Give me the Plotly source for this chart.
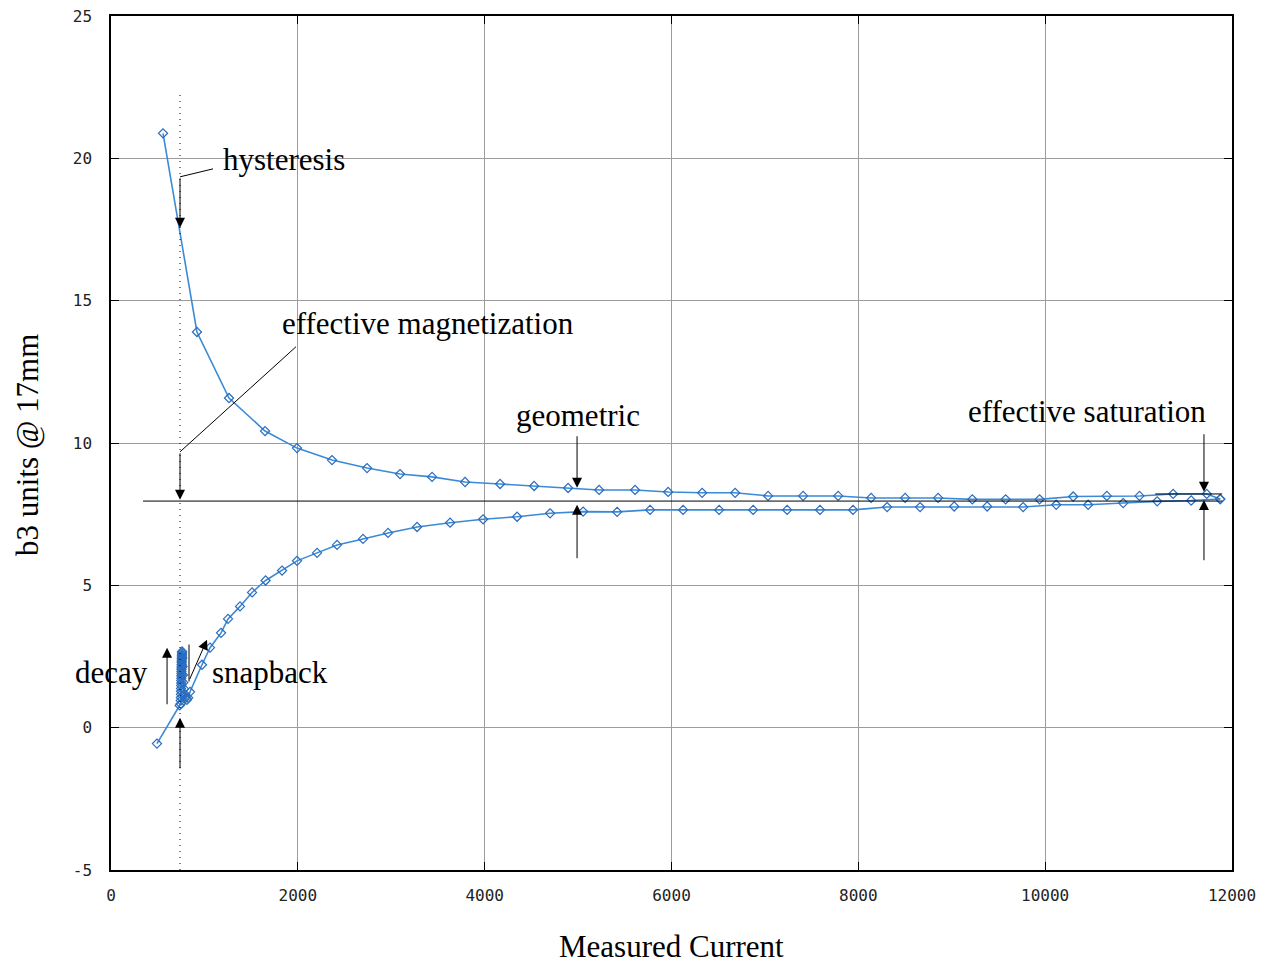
import plotly.graph_objects as go

# ---------------- data ----------------
# down-ramp branch (upper curve)
down_x = [557, 920, 1263, 1649, 1991, 2366, 2741, 3094, 3437, 3790, 4165, 4529,
          4893, 5225, 5610, 5964, 6328, 6681, 7034, 7409, 7784, 8137, 8501, 8854,
          9220, 9577, 9940, 10300, 10660, 11010, 11370, 11730, 11874]
down_y = [20.88, 13.9, 11.58, 10.42, 9.82, 9.40, 9.12, 8.91, 8.81, 8.63, 8.56, 8.49,
          8.42, 8.35, 8.35, 8.28, 8.25, 8.25, 8.14, 8.14, 8.14, 8.07, 8.07, 8.07,
          8.02, 8.02, 8.02, 8.12, 8.14, 8.14, 8.21, 8.21, 8.03]

# up-ramp branch (lower curve) incl. decay at injection and snapback
up_x = [492, 735,
        746, 747, 748, 749, 750, 750, 751, 752, 752, 753, 753, 754, 754, 755,
        755, 756, 756, 757, 757, 758, 758, 759, 759, 760, 760, 761,
        763, 766, 770, 775, 782, 790, 800, 812, 826,
        846, 974, 1060, 1178, 1253, 1381, 1510, 1655, 1831, 1991, 2206, 2420,
        2698, 2966, 3276, 3630, 3983, 4347, 4700, 5054, 5418, 5771, 6124, 6510,
        6874, 7238, 7590, 7943, 8308, 8661, 9026, 9379, 9764, 10118, 10460, 10835,
        11199, 11563, 11874]
up_y = [-0.56, 0.78,
        0.84, 0.95, 1.06, 1.17, 1.28, 1.38, 1.48, 1.57, 1.66, 1.74, 1.82, 1.90, 1.97, 2.04,
        2.10, 2.16, 2.22, 2.28, 2.33, 2.38, 2.43, 2.48, 2.53, 2.58, 2.63, 2.68,
        2.45, 2.15, 1.85, 1.58, 1.36, 1.18, 1.05, 0.98, 1.05,
        1.26, 2.21, 2.81, 3.33, 3.82, 4.26, 4.75, 5.17, 5.52, 5.86, 6.14, 6.42,
        6.63, 6.84, 7.05, 7.20, 7.32, 7.41, 7.53, 7.59, 7.58, 7.65, 7.65, 7.65,
        7.65, 7.65, 7.65, 7.65, 7.75, 7.75, 7.77, 7.77, 7.75, 7.83, 7.83, 7.89,
        7.95, 7.98, 8.03]

x_ticks = [0, 2000, 4000, 6000, 8000, 10000, 12000]
x_ticktext = ["0", "2000", "4000", "6000", "8000", "10000", "12000"]
y_ticks = [-5, 0, 5, 10, 15, 20, 25]
y_ticktext = ["-5", "0", "5", "10", "15", "20", "25"]

injection_current = 739
geometric_level = 7.96
saturation_level = 8.21

# text labels: (text, x, y)
labels = [
    ("hysteresis", 1852, 19.95),
    ("effective magnetization", 3393, 14.19),
    ("geometric", 4999, 10.96),
    ("effective saturation", 10447, 11.1),
    ("decay", 0, 1.93),
    ("snapback", 1702, 1.93),
    ("injection", 771, -5.8),
]
# arrows: (tip_x, tip_y, tail_x, tail_y)
arrows = [
    (739, 17.56, 739, 19.35),
    (739, 8.01, 739, 9.69),
    (4989, 8.43, 4989, 10.29),
    (4989, 7.83, 4989, 5.90),
    (11700, 8.29, 11700, 10.36),
    (11700, 8.00, 11700, 5.83),
    (600, 2.81, 600, 0.77),
    (1028, 3.09, 835, 1.65),
    (739, 0.35, 739, -1.48),
]
# plain leader lines: (x0, y0, x1, y1)
leaders = [
    (1092, 19.63, 739, 19.35),
    (1980, 13.38, 739, 9.69),
    (835, 2.92, 835, 1.62),
]

LINE_C = "#3a8ad6"
MARK_C = "#2a6cbf"
SERIF = "Liberation Serif"

fig = go.Figure()
for xs, ys in [(down_x, down_y), (up_x, up_y)]:
    fig.add_trace(go.Scatter(
        x=xs, y=ys, mode="lines+markers",
        line=dict(color=LINE_C, width=1.6),
        marker=dict(symbol="diamond-open", size=7, color=MARK_C,
                    line=dict(width=1.2, color=MARK_C)),
        showlegend=False,
    ))

# reference lines
fig.add_shape(type="line", xref="x", yref="y",
              x0=injection_current, x1=injection_current, y0=-5, y1=22.4,
              line=dict(color="black", width=1, dash="1px,5px"))
fig.add_shape(type="line", xref="x", yref="y",
              x0=343, x1=11895, y0=geometric_level, y1=geometric_level,
              line=dict(color="black", width=1))
fig.add_shape(type="line", xref="x", yref="y",
              x0=11178, x1=11895, y0=saturation_level, y1=saturation_level,
              line=dict(color="black", width=1))
for x0, y0, x1, y1 in leaders:
    fig.add_shape(type="line", xref="x", yref="y", x0=x0, y0=y0, x1=x1, y1=y1,
                  line=dict(color="black", width=1))

for t, x, y in labels:
    fig.add_annotation(x=x, y=y, xref="x", yref="y", text=t, showarrow=False,
                       xanchor="center", yanchor="middle",
                       font=dict(family=SERIF, size=31, color="black"))

for tx, ty, ax, ay in arrows:
    fig.add_annotation(x=tx, y=ty, ax=ax, ay=ay, xref="x", yref="y",
                       axref="x", ayref="y", text="", showarrow=True,
                       arrowhead=2, arrowsize=2.0, arrowwidth=1,
                       arrowcolor="black", standoff=0, startstandoff=0)

# axis titles
fig.add_annotation(x=-0.074, y=0.4977, xref="paper", yref="paper",
                   xanchor="center", yanchor="middle",
                   text="b3 units @ 17mm", textangle=-90, showarrow=False,
                   font=dict(family=SERIF, size=31, color="black"))
fig.add_annotation(x=0.5004, y=-0.089, xref="paper", yref="paper",
                   xanchor="center", yanchor="middle",
                   text="Measured Current", showarrow=False,
                   font=dict(family=SERIF, size=31, color="black"))

axis_common = dict(
    showgrid=True, gridcolor="#9c9c9c", gridwidth=1.2,
    showline=True, linecolor="black", linewidth=1.5, mirror="ticks",
    ticks="inside", ticklen=8, tickcolor="black", tickwidth=1.2,
    zeroline=False, automargin=False, ticklabeloverflow="allow",
    tickfont=dict(family="DejaVu Sans Mono", size=16, color="#222222"),
)
fig.update_xaxes(range=[0, 12000], tickvals=x_ticks, ticktext=x_ticktext,
                 ticklabelstandoff=10, **axis_common)
fig.update_yaxes(range=[-5, 25], tickvals=y_ticks, ticktext=y_ticktext,
                 ticklabelstandoff=14, **axis_common)

# page body adds an 8px offset; size the figure so the plot lands in place
fig.update_layout(
    width=1259, height=958,
    margin=dict(l=103, r=35, t=8, b=96),
    plot_bgcolor="white", paper_bgcolor="white",
)

fig.write_html("out.html")
